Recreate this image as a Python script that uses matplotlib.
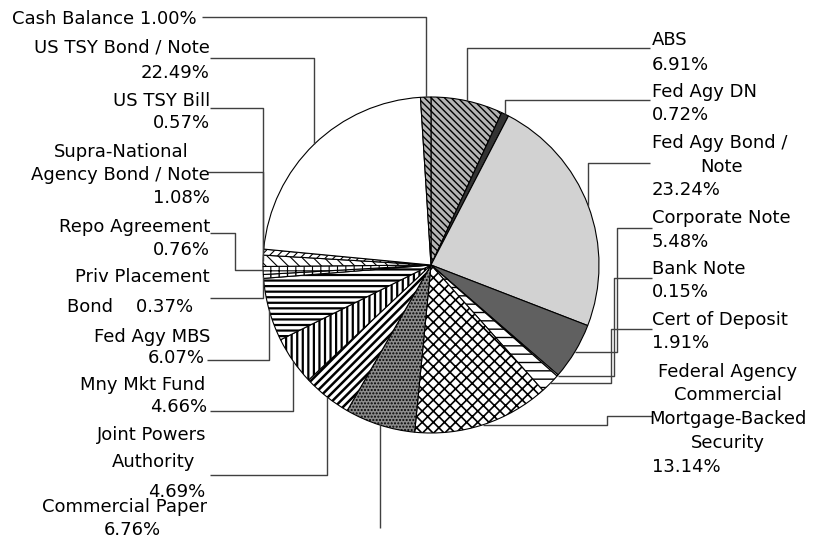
import matplotlib
matplotlib.use('Agg')
import matplotlib.pyplot as plt
import numpy as np


categories = ['ABS', 'Fed Agy DN', 'Fed Agy Bond / Note', 'Corporate Note', 'Bank Note',
              'Cert of Deposit', 'Federal Agency Commercial Mortgage-Backed Security',
              'Commercial Paper', 'Joint Powers Authority', 'Mny Mkt Fund', 'Fed Agy MBS',
              'Priv Placement Bond', 'Repo Agreement', 'Supra-National Agency Bond / Note',
              'US TSY Bill', 'US TSY Bond / Note', 'Cash Balance']
values = [6.91, 0.72, 23.24, 5.48, 0.15, 1.91, 13.14, 6.76, 4.69, 4.66, 6.07,
          0.37, 0.76, 1.08, 0.57, 22.49, 1.00]
# label text as wrapped on the chart, {} gets the percentage
label_text = ['ABS\n{}', 'Fed Agy DN\n{}', 'Fed Agy Bond /\nNote\n{}', 'Corporate Note\n{}',
              'Bank Note\n{}', 'Cert of Deposit\n{}',
              'Federal Agency\nCommercial\nMortgage-Backed\nSecurity\n{}',
              'Commercial Paper\n{}', 'Joint Powers\nAuthority\n{}', 'Mny Mkt Fund\n{}',
              'Fed Agy MBS\n{}', 'Priv Placement\nBond    {}', 'Repo Agreement\n{}',
              'Supra-National\nAgency Bond / Note\n{}', 'US TSY Bill\n{}',
              'US TSY Bond / Note\n{}', 'Cash Balance {}']

W, H = 825, 542
CX, CY, R = 431, 265, 168

# fill styles: facecolor, hatch, hatch linewidth
fills = [('#b4b4b4', '\\\\\\\\\\', 1.0), ('#333333', '', 1.0), ('#d2d2d2', '', 1.0),
         ('#606060', '', 1.0), ('white', '', 1.0), ('white', '--', 1.0),
         ('white', 'xxx', 1.2), ('#8c8c8c', '.....', 1.0), ('white', '////', 1.8),
         ('white', '|||', 1.6), ('white', '---', 1.6), ('white', '||', 1.0),
         ('white', '++', 0.8), ('white', '\\\\\\', 0.8), ('white', '////', 0.8),
         ('white', '', 1.0), ('#b4b4b4', '\\\\\\\\\\', 1.0)]

# per line of each label: x, baseline y, alignment (pixels from top-left)
label_pos = [
    [(652, 45, 'left'), (652, 70, 'left')],
    [(652, 97, 'left'), (652, 120, 'left')],
    [(652, 148, 'left'), (700, 172, 'left'), (652, 195, 'left')],
    [(652, 223, 'left'), (652, 247, 'left')],
    [(652, 274, 'left'), (652, 297, 'left')],
    [(652, 325, 'left'), (652, 348, 'left')],
    [(728, 377, 'center'), (728, 400, 'center'), (728, 424, 'center'),
     (728, 448, 'center'), (652, 472, 'left')],
    [(125, 512, 'center'), (132, 535, 'center')],
    [(152, 440, 'center'), (154, 467, 'center'), (205, 497, 'right')],
    [(205, 390, 'right'), (207, 412, 'right')],
    [(210, 342, 'right'), (205, 363, 'right')],
    [(210, 282, 'right'), (193, 312, 'right')],
    [(210, 232, 'right'), (210, 255, 'right')],
    [(121, 157, 'center'), (120, 180, 'center'), (210, 203, 'right')],
    [(210, 106, 'right'), (210, 128, 'right')],
    [(210, 53, 'right'), (210, 78, 'right')],
    [(197, 24, 'right')],
]

# leader lines: start point at the label, elbow x (None = straight down/up to anchor)
leaders = [
    ((650, 48), None), ((650, 100), None), ((650, 163), None),
    ((652, 228), 617), ((652, 278), 614), ((652, 329), 611), ((652, 416), 607),
    ('down', 528),
    ((210, 475), None), ((210, 411), None), ((207, 360), None), ((210, 298), None),
    ((210, 233), 235), ((207, 172), None), ((210, 108), None), ((210, 58), None),
    ((202, 17), None),
]


def main():
    fig = plt.figure(figsize=(W / 100, H / 100), dpi=100)
    ax = fig.add_axes([0, 0, 1, 1])

    wedges, _ = ax.pie(values, startangle=-90, counterclock=True, center=(CX, CY), radius=R,
                       wedgeprops=dict(edgecolor='black', linewidth=0.8))
    for w, (fc, hatch, hlw) in zip(wedges, fills):
        w.set_facecolor(fc)
        if hatch:
            w.set_hatch(hatch)
            if hasattr(w, 'set_hatch_linewidth'):
                w.set_hatch_linewidth(hlw)

    cum = np.cumsum([0] + values[:-1])
    mids = np.deg2rad(-90 + 360 * (cum + np.array(values) / 2) / 100)

    for v, text, pos, lead, th in zip(values, label_text, label_pos, leaders, mids):
        lines = text.format(f'{v:.2f}%').split('\n')
        for s, (x, y, ha) in zip(lines, pos):
            ax.text(x, y, s, ha=ha, va='baseline', fontsize=13, color='black')

        axx, axy = CX + R * np.cos(th), CY + R * np.sin(th)
        if lead[0] == 'down':
            xs, ys = [axx, axx], [axy, lead[1]]
        else:
            (sx, sy), ex = lead
            if ex is None:
                xs, ys = [sx, axx, axx], [sy, sy, axy]
            else:
                xs, ys = [sx, ex, ex, axx], [sy, sy, axy, axy]
        ax.plot(xs, ys, color='#404040', linewidth=1.0, solid_capstyle='butt')

    ax.set_xlim(0, W)
    ax.set_ylim(H, 0)
    ax.axis('off')
    fig.savefig('out.png', dpi=100, facecolor='white')


if __name__ == '__main__':
    main()
